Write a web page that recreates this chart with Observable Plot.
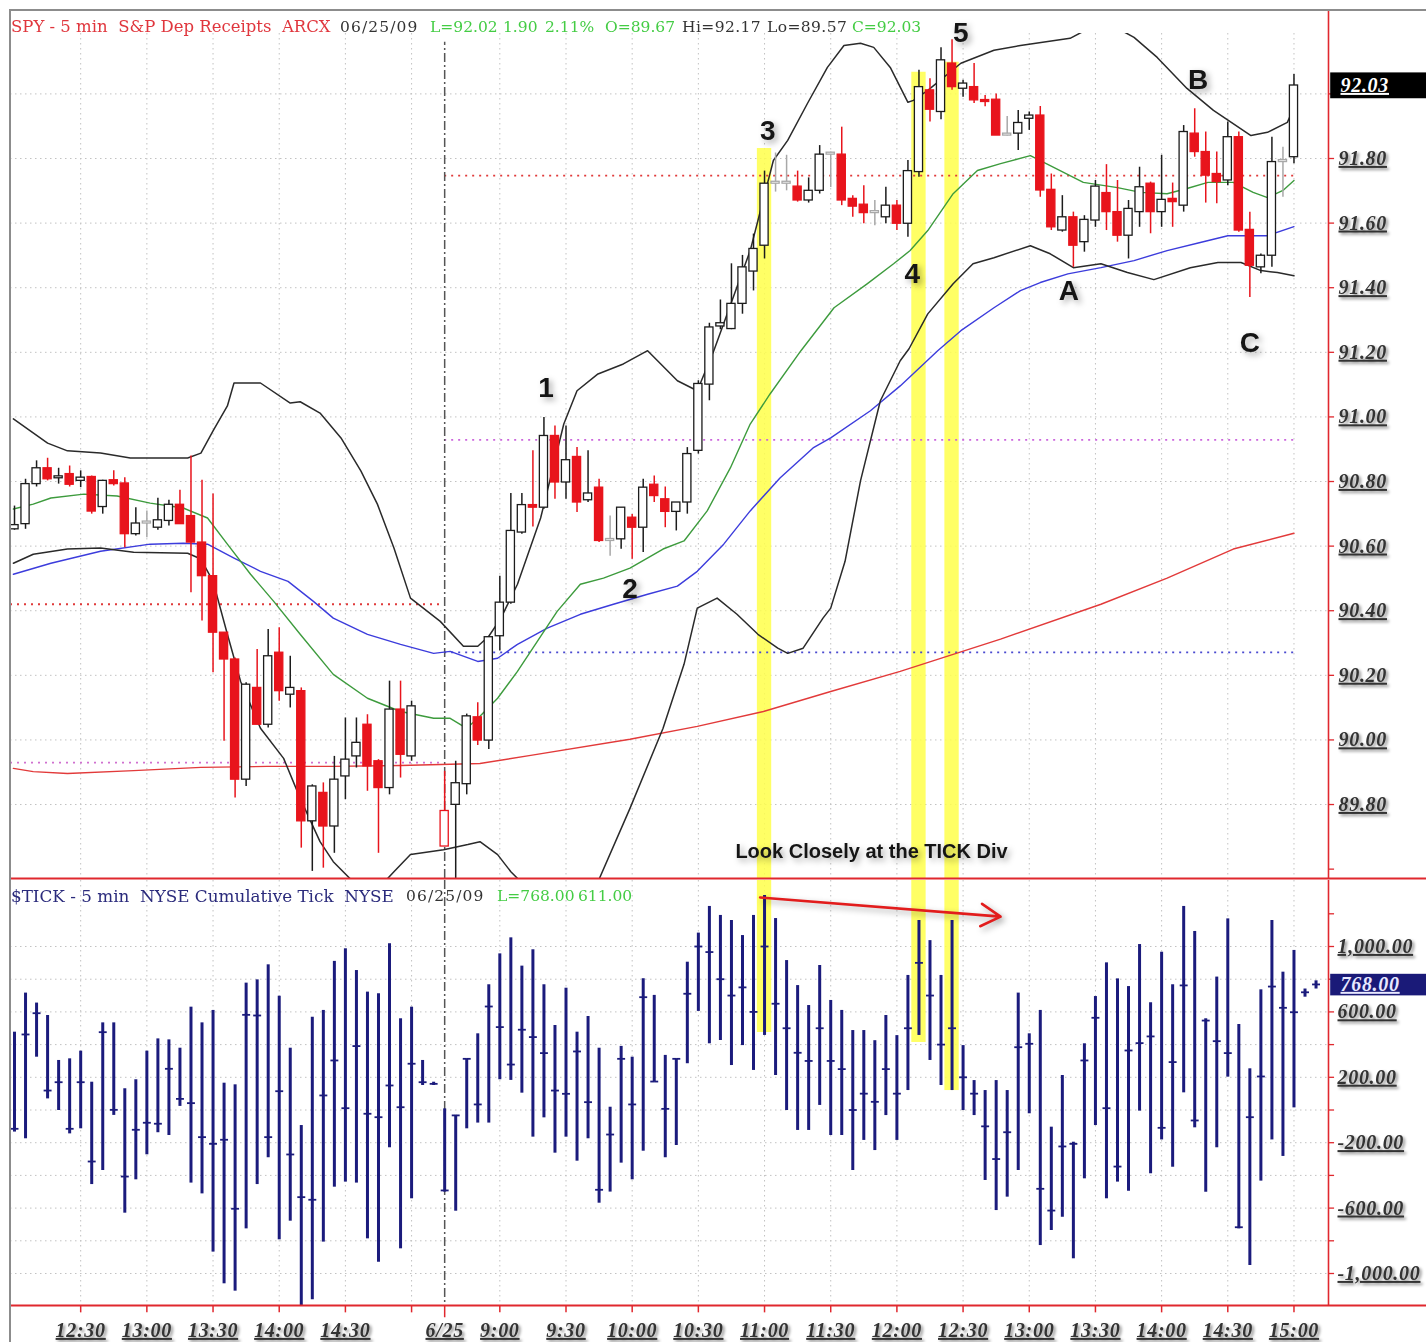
<!DOCTYPE html>
<html><head><meta charset="utf-8">
<script src="https://cdn.jsdelivr.net/npm/d3@7"></script>
<script src="https://cdn.jsdelivr.net/npm/@observablehq/plot@0.6"></script>
<style>
html,body{margin:0;padding:0;background:#fff;overflow:hidden;}
#wrap{position:relative;width:1426px;height:1342px;overflow:hidden;background:#fff;}
#top,#bot{position:absolute;left:0;}
#top{top:0px;} #bot{top:879px;}
#frameTop{position:absolute;left:10px;top:9px;width:1416px;height:0;border-top:2px solid #8c8c8c;}
#frameLeft{position:absolute;left:9px;top:9px;width:0;height:1333px;border-left:2px solid #8c8c8c;}
.ttl{position:absolute;left:0;height:20px;width:1000px;font-family:"DejaVu Serif",serif;font-size:16.5px;}
.ttl span{position:absolute;top:0;white-space:pre;line-height:20px;}
.ttl span.n{font-size:15.5px;letter-spacing:0;}
svg g[aria-description~="ul"] text{text-decoration:underline;letter-spacing:0.7px;}
svg g[aria-description~="sh"]{filter:drop-shadow(2px 2px 1.5px rgba(0,0,0,0.45));}
svg g[aria-description~="sh2"]{filter:drop-shadow(3px 3px 3px rgba(0,0,0,0.35));}
</style>
</head><body>
<div id="wrap">
  <div id="top"></div>
  <div id="bot"></div>
  <div id="frameTop"></div>
  <div id="frameLeft"></div>
  <div class="ttl" style="top:17px">
    <span style="left:11px;color:#e0363d">SPY - 5 min  S&amp;P Dep Receipts  ARCX</span>
    <span class="n" style="left:340px;color:#333;letter-spacing:1.1px">06/25/09</span>
    <span class="n" style="left:430px;color:#44cc44">L=92.02</span>
    <span class="n" style="left:503px;color:#44cc44">1.90</span>
    <span class="n" style="left:545px;color:#44cc44">2.11%</span>
    <span class="n" style="left:605px;color:#44cc44">O=89.67</span>
    <span class="n" style="left:682px;color:#333;letter-spacing:0.4px">Hi=92.17</span>
    <span class="n" style="left:767px;color:#333;letter-spacing:0.4px">Lo=89.57</span>
    <span class="n" style="left:852px;color:#44cc44">C=92.03</span>
  </div>
  <div class="ttl" style="top:886px">
    <span style="left:11px;color:#2b2b7c;font-size:16.8px">$TICK - 5 min  NYSE Cumulative Tick  NYSE</span>
    <span class="n" style="left:406px;color:#333;letter-spacing:1.1px">06/25/09</span>
    <span class="n" style="left:497px;color:#44cc44">L=768.00</span>
    <span class="n" style="left:578px;color:#44cc44">611.00</span>
  </div>
</div>
<script>
// ================= DATA =================
// SPY 5-min candles [open, high, low, close]; 6/24 12:00-15:00 (slots 0..36)
const spyDay1 = [
 [90.652,90.724,90.649,90.665],[90.668,90.807,90.652,90.792],[90.792,90.864,90.783,90.841],
 [90.841,90.872,90.802,90.807],[90.810,90.841,90.792,90.814],[90.823,90.848,90.783,90.790],
 [90.802,90.833,90.781,90.812],[90.814,90.817,90.699,90.707],[90.721,90.804,90.699,90.802],
 [90.804,90.833,90.786,90.792],[90.794,90.812,90.595,90.637],[90.637,90.719,90.631,90.670],
 [90.670,90.709,90.626,90.670],[90.657,90.748,90.649,90.680],[90.678,90.742,90.662,90.728],
 [90.728,90.773,90.668,90.668],[90.693,90.879,90.456,90.611],[90.611,90.804,90.368,90.507],
 [90.507,90.761,90.208,90.332],[90.332,90.332,89.996,90.249],[90.249,90.254,89.820,89.877],
 [89.877,90.177,89.856,90.171],[90.161,90.280,90.047,90.047],[90.047,90.342,90.037,90.259],
 [90.270,90.347,90.120,90.151],[90.140,90.259,90.099,90.161],[90.151,90.161,89.665,89.748],
 [89.748,89.861,89.593,89.856],[89.836,89.867,89.603,89.732],[89.732,89.949,89.649,89.877],
 [89.887,90.068,89.815,89.939],[89.949,90.068,89.913,89.991],[90.047,90.078,89.841,89.918],
 [89.934,89.939,89.649,89.851],[89.851,90.182,89.830,90.094],[90.094,90.182,89.882,89.954],
 [89.949,90.120,89.934,90.104]
];
// 6/25 8:35-15:00 (slots 39..116)
const spyDay2 = [
 [89.670,89.903,89.670,89.780],[89.799,89.934,89.570,89.866],[89.863,90.080,89.830,90.073],
 [90.070,90.115,89.983,89.998],[89.998,90.321,89.970,90.318],[90.321,90.507,90.275,90.425],
 [90.425,90.763,90.420,90.647],[90.642,90.763,90.637,90.727],[90.727,90.895,90.659,90.719],
 [90.719,90.998,90.714,90.941],[90.941,90.972,90.745,90.797],[90.797,90.972,90.745,90.866],
 [90.876,90.905,90.704,90.735],[90.742,90.895,90.735,90.763],[90.781,90.807,90.611,90.616],
 [90.616,90.693,90.569,90.616],[90.621,90.719,90.590,90.719],[90.688,90.698,90.559,90.657],
 [90.657,90.807,90.580,90.781],[90.790,90.817,90.735,90.755],[90.745,90.783,90.657,90.706],
 [90.706,90.735,90.647,90.735],[90.735,90.905,90.699,90.885],[90.895,91.112,90.885,91.102],
 [91.100,91.290,91.050,91.277],[91.280,91.362,91.270,91.290],[91.272,91.474,91.270,91.350],
 [91.350,91.500,91.318,91.463],[91.450,91.566,91.390,91.520],[91.530,91.761,91.489,91.722],
 [91.722,91.817,91.696,91.722],[91.722,91.810,91.700,91.722],[91.713,91.761,91.665,91.670],
 [91.670,91.740,91.662,91.700],[91.700,91.840,91.690,91.812],[91.812,91.820,91.710,91.812],
 [91.812,91.897,91.654,91.670],[91.675,91.685,91.618,91.651],[91.657,91.716,91.598,91.631],
 [91.631,91.670,91.592,91.631],[91.618,91.711,91.598,91.654],[91.654,91.670,91.577,91.598],
 [91.598,91.794,91.556,91.761],[91.758,92.073,91.742,92.021],[92.011,92.047,91.913,91.951],
 [91.944,92.143,91.920,92.104],[92.094,92.168,92.011,92.021],[92.016,92.042,91.990,92.032],
 [92.021,92.094,91.970,91.980],[91.980,91.995,91.960,91.975],[91.982,92.000,91.871,91.871],
 [91.871,91.930,91.870,91.871],[91.877,91.949,91.825,91.910],[91.923,91.944,91.887,91.933],
 [91.933,91.961,91.680,91.701],[91.703,91.752,91.577,91.587],[91.577,91.685,91.572,91.618],
 [91.618,91.634,91.463,91.530],[91.541,91.623,91.510,91.610],[91.608,91.732,91.587,91.713],
 [91.693,91.781,91.577,91.634],[91.634,91.732,91.541,91.561],[91.561,91.670,91.489,91.644],
 [91.634,91.773,91.587,91.711],[91.722,91.727,91.567,91.634],[91.634,91.810,91.587,91.672],
 [91.675,91.724,91.587,91.665],[91.654,91.902,91.634,91.882],[91.877,91.954,91.804,91.820],
 [91.820,91.882,91.662,91.747],[91.752,91.820,91.660,91.727],[91.732,91.913,91.716,91.866],
 [91.866,91.882,91.572,91.577],[91.579,91.634,91.370,91.468],[91.463,91.504,91.443,91.499],
 [91.499,91.866,91.463,91.789],[91.789,91.835,91.680,91.789],[91.804,92.060,91.784,92.026]
];
const day2Start = 39;

// $TICK 5-min bars [high, low, close]; 6/24 slots 0..38, 6/25 slots 39..118
const tickDay1 = [
 [476,-135,-115],[715,-176,462],[654,323,592],[578,68,119],[303,-3,170],[313,-146,-115],
 [360,-115,170],[170,-456,-315],[533,-370,476],[533,-33,1],[130,-631,-407],[185,-427,-121],
 [360,-274,-78],[435,-139,-84],[429,-156,252],[378,22,68],[629,-447,42],[533,-513,-166],
 [609,-869,-207],[164,-1063,-182],[154,-1108,-604],[776,-727,582],[796,-456,578],[888,-292,-166],
 [696,-794,115],[378,-680,-272],[-95,-1206,-533],[568,-1161,-549],[609,-808,89],[909,-472,303],
 [986,-441,11],[853,-447,391],[721,-788,-23],[711,-931,-44],[1017,-231,150],[558,-849,17],
 [629,-543,283],[303,150,170],[170,150,160]
];
const tickDay2 = [
 [7,-502,-492],[-33,-619,-33],[313,-115,313],[466,-80,34],[766,-80,633],[955,185,507],
 [1053,181,278],[880,103,491],[980,-166,446],[766,-48,348],[517,-264,119],[745,-166,99],
 [476,-313,358],[572,-176,48],[378,-570,-488],[17,-502,-150],[389,-325,313],[323,-427,34],
 [803,-252,690],[701,170,174],[334,-292,7],[313,-217,313],[904,283,711],[1082,603,1000],
 [1245,405,966],[1190,425,800],[1159,272,700],[1067,394,750],[1190,242,600],[1312,456,1000],
 [1171,211,650],[914,-3,500],[761,-125,350],[639,-125,300],[884,28,500],[670,-156,300],
 [609,-156,250],[486,-370,0],[486,-186,100],[424,-248,50],[578,-34,250],[455,-186,100],
 [823,119,500],[1159,456,900],[1036,303,700],[823,150,400],[1159,119,500],[394,-3,200],
 [180,-34,100],[119,-431,-100],[180,-615,-300],[119,-533,-136],[715,-370,384],[466,-23,405],
 [609,-829,-482],[-105,-737,-615],[211,-656,-223],[-197,-910,-207],[405,-421,303],[694,-95,564],
 [900,-543,11],[802,-441,-346],[755,-497,364],[1012,-7,409],[656,-390,450],[965,-183,-109],
 [766,-350,293],[1245,105,762],[1092,-109,-64],[558,-503,547],[813,-231,421],[1169,201,348],
 [523,-727,-717],[252,-951,-44],[735,-435,205],[1159,-183,755],[843,-284,625],[976,13,598],
 [740,690,720],[790,740,768]
];

// Indicator lines [slot, price]
const bbUpper = [[-0.1,90.994],[3.0,90.919],[4.8,90.895],[7.8,90.888],[10.5,90.873],[15.7,90.873],[16.9,90.888],[18.0,90.957],[19.3,91.034],[19.9,91.105],[22.3,91.105],[25.0,91.043],[25.9,91.047],[27.7,91.012],[29.6,90.935],[31.4,90.833],[32.9,90.730],[34.4,90.594],[35.9,90.439],[38.6,90.367],[40.7,90.290],[42.0,90.290],[43.0,90.321],[44.1,90.377],[45.6,90.482],[47.7,90.687],[49.8,90.978],[51.0,91.081],[52.9,91.133],[55.2,91.164],[57.4,91.205],[60.1,91.112],[61.9,91.081],[63.4,91.205],[66.7,91.515],[68.8,91.794],[70.1,91.856],[71.9,91.971],[73.7,92.082],[75.2,92.150],[76.7,92.157],[77.9,92.144],[79.4,92.082],[81.0,91.974],[81.5,91.980],[82.8,92.011],[85.8,92.095],[88.8,92.135],[91.2,92.150],[95.7,92.172],[97.1,92.197],[99.4,92.203],[100.7,92.190],[101.5,92.175],[103.6,92.113],[106.3,92.017],[108.7,91.949],[112.1,91.871],[113.6,91.881],[115.4,91.912],[116.0,91.958]];
const bbLower = [[-0.1,90.547],[1.7,90.575],[4.8,90.591],[7.8,90.594],[10.8,90.581],[15.7,90.578],[16.9,90.560],[18.0,90.491],[19.3,90.327],[20.5,90.181],[22.3,90.036],[24.4,89.943],[25.9,89.819],[27.7,89.685],[28.9,89.623],[30.7,89.561],[32.3,89.515],[34.4,89.592],[35.9,89.645],[38.9,89.660],[41.1,89.676],[42.2,89.685],[43.8,89.645],[45.0,89.592],[47.7,89.499],[50.4,89.453],[52.9,89.561],[55.8,89.788],[58.8,90.036],[60.7,90.234],[61.9,90.408],[63.7,90.439],[65.5,90.389],[67.4,90.327],[69.2,90.284],[70.1,90.268],[71.5,90.284],[73.3,90.377],[74.0,90.408],[75.3,90.553],[76.7,90.802],[78.5,91.050],[80.3,91.174],[81.1,91.211],[82.8,91.319],[85.1,91.412],[86.9,91.474],[88.8,91.493],[92.1,91.530],[93.9,91.505],[96.0,91.462],[98.5,91.474],[100.9,91.447],[103.3,91.425],[106.6,91.462],[109.1,91.478],[111.2,91.478],[113.0,91.453],[114.5,91.447],[116.0,91.437]];
const maFast = [[-0.1,90.715],[1.7,90.730],[3.3,90.749],[6.3,90.761],[9.3,90.755],[12.3,90.733],[15.3,90.718],[17.5,90.687],[19.3,90.606],[21.4,90.513],[23.5,90.429],[25.9,90.327],[28.9,90.203],[32.0,90.129],[35.0,90.088],[38.0,90.067],[39.5,90.067],[41.0,90.036],[42.2,90.073],[43.8,90.129],[45.6,90.212],[47.4,90.305],[49.2,90.398],[51.3,90.482],[53.4,90.501],[55.8,90.532],[58.8,90.591],[60.7,90.616],[62.8,90.709],[64.9,90.842],[66.7,90.978],[68.5,91.071],[71.3,91.205],[74.3,91.338],[77.3,91.412],[79.7,91.474],[81.2,91.515],[82.8,91.577],[85.1,91.691],[87.3,91.763],[89.4,91.784],[92.1,91.809],[93.9,91.778],[96.9,91.726],[100.0,91.710],[102.1,91.695],[104.5,91.691],[106.3,91.707],[108.2,91.726],[110.5,91.726],[112.3,91.695],[113.6,91.679],[115.0,91.701],[116.0,91.732]];
const maMid = [[-0.1,90.513],[3.3,90.547],[7.8,90.584],[12.3,90.606],[15.3,90.609],[17.5,90.606],[19.9,90.563],[22.3,90.522],[24.8,90.491],[27.1,90.429],[28.9,90.377],[32.0,90.327],[35.0,90.296],[38.0,90.268],[39.5,90.274],[42.0,90.243],[43.8,90.253],[45.6,90.296],[48.3,90.346],[51.3,90.389],[54.3,90.420],[57.4,90.451],[60.1,90.476],[61.9,90.522],[64.3,90.606],[66.7,90.709],[69.4,90.811],[72.4,90.904],[74.0,90.935],[77.6,91.019],[80.3,91.096],[83.7,91.205],[85.8,91.267],[88.8,91.338],[91.2,91.391],[93.0,91.416],[95.5,91.443],[98.5,91.462],[101.5,91.484],[104.5,91.515],[107.5,91.540],[110.0,91.561],[111.8,91.561],[113.6,91.561],[116.0,91.589]];
const maSlow = [[-0.1,89.912],[1.7,89.902],[4.8,89.896],[10.8,89.905],[16.9,89.915],[22.9,89.918],[28.9,89.918],[35.0,89.921],[42.2,89.927],[46.8,89.952],[55.8,90.002],[61.9,90.042],[67.9,90.088],[74.0,90.150],[80.3,90.212],[89.4,90.312],[98.5,90.420],[104.5,90.501],[110.5,90.591],[116.0,90.640]];

// Pivot levels (dotted)
const pivotsDay1 = [90.42, 89.93];
const pivotsDay2 = [91.747, 90.929, 90.271];

// Axes
const xTickSlots = [6,12,18,24,30,36,39,44,50,56,62,68,74,80,86,92,98,104,110,116];
const xTickLabels = ["12:30","13:00","13:30","14:00","14:30","","6/25","9:00","9:30","10:00","10:30","11:00","11:30","12:00","12:30","13:00","13:30","14:00","14:30","15:00"];
const priceTicks = [89.6,89.8,90.0,90.2,90.4,90.6,90.8,91.0,91.2,91.4,91.6,91.8,92.0];
const priceLabels = [89.8,90.0,90.2,90.4,90.6,90.8,91.0,91.2,91.4,91.6,91.8];
const tickAxisTicks = [-1000,-800,-600,-400,-200,0,200,400,600,800,1000,1200];
const tickGrid = [-1000,-800,-600,-400,-200,0,200,400,600,800,1000];
const tickAxisLabels = [1000,600,200,-200,-600,-1000];

// Annotations
const noteText = ["1","2","3","4","5","A","B","C"];
const noteSlot = [48.2,55.8,68.3,81.4,85.8,95.6,107.3,112.0];
const notePrice = [91.09,90.467,91.884,91.443,92.187,91.391,92.042,91.229];
const highlightSlots = [68,82,85];
const highlightTop = [91.831,92.067,92.098];
const highlightTickLow = [474,413,119];
const arrowFrom = [67.6,1300];
const arrowTo = [89.4,1183];
const lastTick = 768;

// ================= BUILD =================
const XD = [-0.363, 119.13];
const XR = 128.05;              // page right edge in slot units
const YD = [89.571, 92.187];
const YTOPEDGE = 92.258;        // frame top
const Y2D = [-1195.7, 1403.7];
const RED = "#e0282e";

const candles = [];
spyDay1.forEach((d,k)=>candles.push({i:k,o:d[0],h:d[1],l:d[2],c:d[3]}));
spyDay2.forEach((d,k)=>candles.push({i:day2Start+k,o:d[0],h:d[1],l:d[2],c:d[3]}));
candles.forEach((d,k)=>{
  const p = k>0 ? candles[k-1].c : d.o;
  d.col = (k>0 && Math.abs(d.c-p)<0.001) ? "#a8a8a8" : (d.c < p ? "#e8141c" : "#1c1c1c");
  d.fill = d.c < d.o ? d.col : "#ffffff";
  d.b1 = Math.min(d.o,d.c); d.b2 = Math.max(Math.max(d.o,d.c), Math.min(d.o,d.c)+0.006);
});
const ticks = [];
tickDay1.forEach((d,k)=>ticks.push({i:k,h:d[0],l:d[1],c:d[2]}));
tickDay2.forEach((d,k)=>ticks.push({i:day2Start+k,h:d[0],l:d[1],c:d[2]}));
const highlights = highlightSlots.map((s,k)=>({i:s, top:highlightTop[k], low:highlightTickLow[k]}));
const notes = noteText.map((t,k)=>({t, x:noteSlot[k], y:notePrice[k]}));
const gridSlots = xTickSlots.filter(s=>s!==day2Start);
const lastClose = candles[candles.length-1].c;
const fmtTick = v => (v<0?"-":"") + d3.format(",.2f")(Math.abs(v));

const lab = {fontFamily:"Liberation Serif, Times New Roman, serif", fontWeight:"bold", fontStyle:"italic", fontSize:20};

const topPlot = Plot.plot({
  width:1426, height:879,
  marginLeft:10, marginRight:98, marginTop:33, marginBottom:1,
  x:{domain:XD, axis:null},
  y:{domain:YD, axis:null},
  color:{type:"identity"},
  style:{background:"transparent", overflow:"visible"},
  marks:[
    Plot.ruleY(priceTicks.filter(v=>v>89.7), {y:d=>d, stroke:"#c2c2c2", strokeDasharray:"1.5,3.5"}),
    Plot.ruleX(gridSlots, {x:d=>d, stroke:"#c2c2c2", strokeDasharray:"1.5,3.5"}),
    Plot.rect(highlights, {x1:d=>d.i-0.65, x2:d=>d.i+0.65, y1:YD[0], y2:d=>d.top, fill:"#ffff4a", fillOpacity:0.85}),
    Plot.ruleY(pivotsDay1, {y:d=>d, x1:XD[0], x2:day2Start, stroke:(d,k)=>["#e03a3a","#d070d0"][k], strokeDasharray:"2,5", strokeWidth:1.8}),
    Plot.ruleY(pivotsDay2, {y:d=>d, x1:day2Start, x2:116, stroke:(d,k)=>["#e03a3a","#cc66dd","#4a4ad0"][k], strokeDasharray:"2,5", strokeWidth:1.8}),
    Plot.ruleX([day2Start], {x:d=>d, y1:YD[0], y2:92.16, stroke:"#555", strokeDasharray:"9,3,2,3", strokeWidth:1.5}),
    Plot.line(maSlow, {x:d=>d[0], y:d=>d[1], stroke:"#e23a3a", strokeWidth:1.4, clip:true}),
    Plot.line(maMid, {x:d=>d[0], y:d=>d[1], stroke:"#3c3cdc", strokeWidth:1.4, clip:true}),
    Plot.line(maFast, {x:d=>d[0], y:d=>d[1], stroke:"#3d9b3d", strokeWidth:1.4, clip:true}),
    Plot.line(bbUpper, {x:d=>d[0], y:d=>d[1], stroke:"#2a2a2a", strokeWidth:1.5, clip:true}),
    Plot.line(bbLower, {x:d=>d[0], y:d=>d[1], stroke:"#2a2a2a", strokeWidth:1.5, clip:true}),
    Plot.ruleX(candles, {x:"i", y1:"l", y2:"h", stroke:"col", strokeWidth:1.5, clip:true}),
    Plot.rect(candles, {x1:d=>d.i-0.37, x2:d=>d.i+0.37, y1:"b1", y2:"b2", fill:"fill", stroke:"col", strokeWidth:1.3, clip:true}),
    Plot.text(notes, {x:"x", y:"y", text:"t", fontFamily:"Liberation Sans, Arial, sans-serif", fontWeight:"bold", fontSize:28, fill:"#151515", ariaDescription:"sh2"}),
    Plot.text(["Look Closely at the TICK Div"], {x:77.7, y:89.655, text:d=>d, fontFamily:"Liberation Sans, Arial, sans-serif", fontWeight:"bold", fontSize:20, fill:"#151515", ariaDescription:"sh2"}),
    Plot.ruleY([YD[0]], {y:d=>d, x1:XD[0], x2:XR, stroke:RED, strokeWidth:2}),
    Plot.ruleX([XD[1]], {x:d=>d, y1:YD[0], y2:YTOPEDGE, stroke:RED, strokeWidth:1.6}),
    Plot.ruleY(priceTicks, {y:d=>d, x1:XD[1], x2:XD[1]+0.55, stroke:RED, strokeWidth:1.3}),
    Plot.text(priceLabels, {x:XD[1], y:d=>d, text:d=>d.toFixed(2), dx:10, textAnchor:"start", fill:"#333", ...lab, ariaDescription:"ul sh"}),
    Plot.rect([lastClose], {x1:XD[1]+0.2, x2:XR, y1:d=>d-0.041, y2:d=>d+0.039, fill:"#000"}),
    Plot.text([lastClose], {x:XD[1], y:d=>d, text:d=>d.toFixed(2), dx:12, textAnchor:"start", fill:"#fff", ...lab, ariaDescription:"ul"})
  ]
});

const botPlot = Plot.plot({
  width:1426, height:463,
  marginLeft:10, marginRight:98, marginTop:1, marginBottom:37,
  x:{domain:XD, axis:null},
  y:{domain:Y2D, axis:null},
  color:{type:"identity"},
  style:{background:"transparent", overflow:"visible"},
  marks:[
    Plot.ruleY(tickGrid, {y:d=>d, stroke:"#c2c2c2", strokeDasharray:"1.5,3.5"}),
    Plot.ruleX(gridSlots, {x:d=>d, stroke:"#c2c2c2", strokeDasharray:"1.5,3.5"}),
    Plot.rect(highlights, {x1:d=>d.i-0.65, x2:d=>d.i+0.65, y1:d=>d.low, y2:Y2D[1], fill:"#ffff4a", fillOpacity:0.85}),
    Plot.ruleX([day2Start], {x:d=>d, stroke:"#555", strokeDasharray:"9,3,2,3", strokeWidth:1.5}),
    Plot.ruleX(ticks, {x:"i", y1:"l", y2:"h", stroke:"#1b1b7c", strokeWidth:3, clip:true}),
    Plot.link(ticks, {x1:d=>d.i, x2:d=>d.i+0.36, y1:"c", y2:"c", stroke:"#1b1b7c", strokeWidth:1.8, clip:true}),
    Plot.link(ticks, {x1:d=>d.i-0.36, x2:d=>d.i, y1:"c", y2:"c", stroke:"#1b1b7c", strokeWidth:1.8, clip:true}),
    Plot.arrow([0], {x1:arrowFrom[0], y1:arrowFrom[1], x2:arrowTo[0], y2:arrowTo[1], stroke:"#e21c1c", strokeWidth:2.6, headLength:13, ariaDescription:"sh2"}),
    Plot.ruleY([Y2D[0]], {y:d=>d, x1:XD[0], x2:XR, stroke:RED, strokeWidth:2}),
    Plot.ruleX([XD[1]], {x:d=>d, y1:Y2D[0], y2:Y2D[1], stroke:RED, strokeWidth:1.6}),
    Plot.ruleY(tickAxisTicks, {y:d=>d, x1:XD[1], x2:XD[1]+0.55, stroke:RED, strokeWidth:1.3}),
    Plot.text(tickAxisLabels, {x:XD[1], y:d=>d, text:fmtTick, dx:9, textAnchor:"start", fill:"#333", ...lab, ariaDescription:"ul sh"}),
    Plot.rect([lastTick], {x1:XD[1]+0.2, x2:XR, y1:d=>d-70, y2:d=>d+62, fill:"#1a1a78"}),
    Plot.text([lastTick], {x:XD[1], y:d=>d, text:fmtTick, dx:12, textAnchor:"start", fill:"#e8e8ff", ...lab, ariaDescription:"ul"}),
    Plot.ruleX(xTickSlots, {x:d=>d, y1:Y2D[0], y2:d=>d===day2Start ? Y2D[0]-75 : Y2D[0]-45, stroke:RED, strokeWidth:1.5}),
    Plot.text(xTickSlots, {x:d=>d, y:Y2D[0], dy:25, text:(d,k)=>xTickLabels[k], fill:"#333", ...lab, ariaDescription:"ul sh"})
  ]
});

[topPlot, botPlot].forEach(s=>{ s.style.maxWidth="none"; s.style.display="block"; });
document.getElementById("top").appendChild(topPlot);
document.getElementById("bot").appendChild(botPlot);
</script>
</body></html>
